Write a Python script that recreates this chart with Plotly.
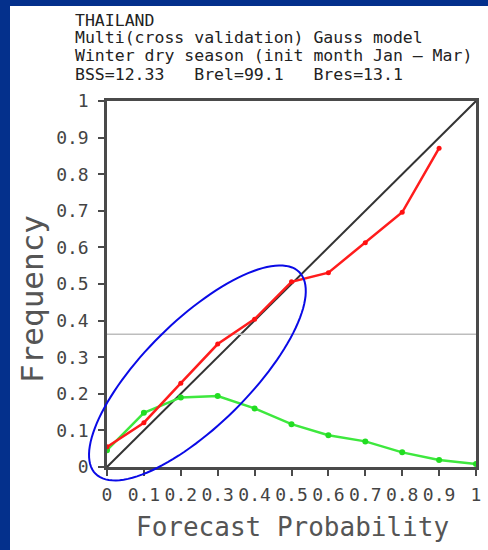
import numpy as np
import plotly.graph_objects as go

# ---------------- data ----------------
prob_bins = [0.0, 0.1, 0.2, 0.3, 0.4, 0.5, 0.6, 0.7, 0.8, 0.9, 1.0]
obs_x = [0.0, 0.1, 0.2, 0.3, 0.4, 0.5, 0.6, 0.7, 0.8, 0.9]
obs_freq = [0.055, 0.121, 0.229, 0.336, 0.404, 0.506, 0.531, 0.613, 0.696, 0.871]
fcst_freq = [0.046, 0.148, 0.190, 0.194, 0.160, 0.117, 0.087, 0.070, 0.040, 0.019, 0.008]
climatology = 0.363
tick_vals = [0.0, 0.1, 0.2, 0.3, 0.4, 0.5, 0.6, 0.7, 0.8, 0.9, 1.0]
tick_text = ["0", "0.1", "0.2", "0.3", "0.4", "0.5", "0.6", "0.7", "0.8", "0.9", "1"]
title_lines = [
    "THAILAND",
    "Multi(cross validation) Gauss model",
    "Winter dry season (init month Jan \u2013 Mar)",
    "BSS=12.33   Brel=99.1   Bres=13.1",
]
x_title = "Forecast Probability"
y_title = "Frequency"

# ---------------- layout constants ----------------
W, H = 488, 550
L, R, T, B = 107, 12, 101, 83
PW, PH = W - L - R, H - T - B
MONO = "DejaVu Sans Mono"


def px_x(px):
    return (px - L) / PW


def px_y(py):
    return (H - B - py) / PH


fig = go.Figure()

# perfect reliability diagonal
fig.add_trace(go.Scatter(x=[prob_bins[0], prob_bins[-1]], y=[prob_bins[0], prob_bins[-1]],
                         mode="lines", line=dict(color="#333333", width=2),
                         hoverinfo="skip", showlegend=False, cliponaxis=False))
# climatology line
fig.add_trace(go.Scatter(x=[prob_bins[0], prob_bins[-1]], y=[climatology, climatology],
                         mode="lines", line=dict(color="#bdbdbd", width=1.5),
                         hoverinfo="skip", showlegend=False, cliponaxis=False))
# forecast frequency (green)
fig.add_trace(go.Scatter(x=prob_bins, y=fcst_freq, mode="lines+markers",
                         line=dict(color="#3ee83e", width=2.5),
                         marker=dict(color="#22dd22", size=6),
                         showlegend=False, cliponaxis=False))
# observed frequency (red)
fig.add_trace(go.Scatter(x=obs_x, y=obs_freq, mode="lines+markers",
                         line=dict(color="#ff1c1c", width=2.5),
                         marker=dict(color="#ff1010", size=5),
                         showlegend=False, cliponaxis=False))

axis_common = dict(range=[0, 1], tickmode="array", tickvals=tick_vals, ticktext=tick_text,
                   showgrid=False, zeroline=False, showline=True, linecolor="#4a4a4a",
                   linewidth=2.5, mirror=True, ticks="outside", ticklen=6, tickwidth=2,
                   tickcolor="#4a4a4a", tickfont=dict(family=MONO, size=18, color="#444444"),
                   fixedrange=True, automargin=False)

fig.update_xaxes(**axis_common, tickangle=0, ticklabelstandoff=4)
fig.update_yaxes(**axis_common, ticklabelstandoff=6)

shapes = []
# white panel over blue slide background
shapes.append(dict(type="rect", xref="paper", yref="paper", layer="below",
                   x0=px_x(10), x1=px_x(W + 200), y0=px_y(H + 200), y1=px_y(6),
                   fillcolor="white", line=dict(width=0)))
# blue ellipse highlight
cx, cy, a, b, ang = 0.245, 0.257, 0.39, 0.143, np.pi / 4
t = np.linspace(0, 2 * np.pi, 121)
ex = cx + a * np.cos(ang) * np.cos(t) - b * np.sin(ang) * np.sin(t)
ey = cy + a * np.sin(ang) * np.cos(t) + b * np.cos(ang) * np.sin(t)
path = "M " + " L ".join(f"{xx:.4f},{yy:.4f}" for xx, yy in zip(ex, ey)) + " Z"
shapes.append(dict(type="path", xref="paper", yref="paper", path=path,
                   line=dict(color="#0a0ae6", width=2), layer="above"))

annotations = []
line_centers = [20, 38, 56, 74]
for txt, cyp in zip(title_lines, line_centers):
    annotations.append(dict(text=txt, xref="paper", yref="paper", x=px_x(73), y=px_y(cyp),
                            xanchor="left", yanchor="middle", showarrow=False,
                            font=dict(family=MONO, size=16.5, color="#222222")))
annotations.append(dict(text=x_title, xref="paper", yref="paper", x=px_x(292), y=px_y(527),
                        xanchor="center", yanchor="middle", showarrow=False,
                        font=dict(family=MONO, size=26, color="#555555")))
annotations.append(dict(text=y_title, xref="paper", yref="paper", x=px_x(32), y=px_y(299),
                        xanchor="center", yanchor="middle", showarrow=False, textangle=-90,
                        font=dict(family=MONO, size=31, color="#555555")))

fig.update_layout(width=W, height=H, autosize=False,
                  margin=dict(l=L, r=R, t=T, b=B, pad=0, autoexpand=False),
                  paper_bgcolor="#04308c", plot_bgcolor="white",
                  shapes=shapes, annotations=annotations, showlegend=False)

fig.write_html("out.html", config={"displayModeBar": False},
               post_script="document.body.style.margin='0';document.body.style.overflow='hidden';")
